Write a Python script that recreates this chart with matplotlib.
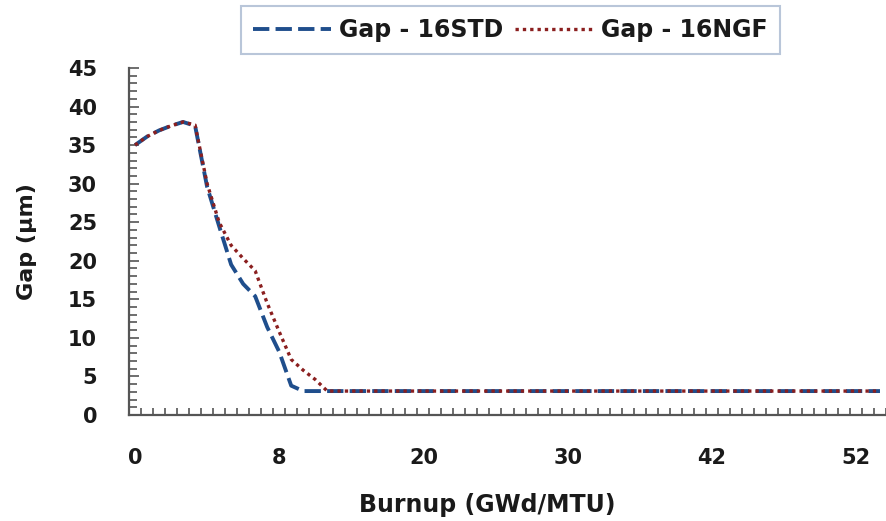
import matplotlib
matplotlib.use("Agg")
import matplotlib.pyplot as plt
from matplotlib.ticker import FixedLocator, MultipleLocator

plt.rcParams['font.family'] = ['DejaVu Sans']

tick_labels = ["0", "8", "20", "30", "42", "52"]
n_cat = 63
gap_std = [35.0, 36.1, 36.9, 37.5, 38.0, 37.5, 29.6, 24.5, 19.5, 17.0, 15.4, 11.4, 8.2, 3.8, 3.1, 3.1] + [3.1] * (n_cat - 16)
gap_ngf = [35.0, 36.1, 36.9, 37.5, 38.0, 37.6, 30.0, 25.0, 22.0, 20.3, 18.7, 14.5, 10.8, 7.2, 5.8, 4.6] + [3.1] * (n_cat - 16)

x = list(range(n_cat))

fig = plt.figure(figsize=(8.86, 5.21), dpi=100)
ax = fig.add_axes([0.1456, 0.2035, 0.8544, 0.666])

blue = "#1f4e8c"
red = "#8b1f1f"
ax.plot(x, gap_std, color=blue, lw=2.8, dashes=(4.2, 1.6), label="Gap - 16STD")
ax.plot(x, gap_ngf, color=red, lw=2.4, dashes=(1, 1.2), label="Gap - 16NGF")

ax.set_xlim(-0.5, n_cat - 0.5)
ax.set_ylim(0, 45)

ax.set_xticks([0, 12, 24, 36, 48, 60])
ax.set_xticklabels(tick_labels)
ax.xaxis.set_minor_locator(FixedLocator([k - 0.5 for k in range(n_cat + 1)]))
ax.tick_params(axis='x', which='major', length=0, pad=24)
ax.tick_params(axis='x', which='minor', direction='in', length=5, width=1.2, color='#555555')

ax.yaxis.set_major_locator(MultipleLocator(5))
ax.yaxis.set_minor_locator(MultipleLocator(1))
ax.tick_params(axis='y', which='major', direction='in', length=7, width=1.2, color='#555555', pad=23)
ax.tick_params(axis='y', which='minor', direction='in', length=6, width=1.2, color='#555555')

for lab in ax.get_xticklabels() + ax.get_yticklabels():
    lab.set_fontsize(15)
    lab.set_fontweight('bold')
    lab.set_color('#1a1a1a')

for s in ['top', 'right']:
    ax.spines[s].set_visible(False)
for s in ['left', 'bottom']:
    ax.spines[s].set_color('#555555')
    ax.spines[s].set_linewidth(1.6)

ax.set_xlabel("Burnup (GWd/MTU)", fontsize=17, fontweight='bold', color='#1a1a1a')
ax.xaxis.set_label_coords(0.473, -0.26)
ax.xaxis.label.set_verticalalignment('center')
ax.set_ylabel("Gap (µm)", fontsize=16, fontweight='bold', color='#1a1a1a', labelpad=22)

leg = fig.legend(loc='center', bbox_to_anchor=(0.576, 0.942), ncol=2, frameon=True, fancybox=False,
                 handlelength=3.3, columnspacing=0.5, handletextpad=0.35, borderpad=0.5,
                 prop={'size': 17, 'weight': 'bold'})
leg.get_frame().set_edgecolor('#a8b8d0')
leg.get_frame().set_linewidth(1.5)
for t in leg.get_texts():
    t.set_color('#1a1a1a')

fig.savefig("out.png", dpi=100)
